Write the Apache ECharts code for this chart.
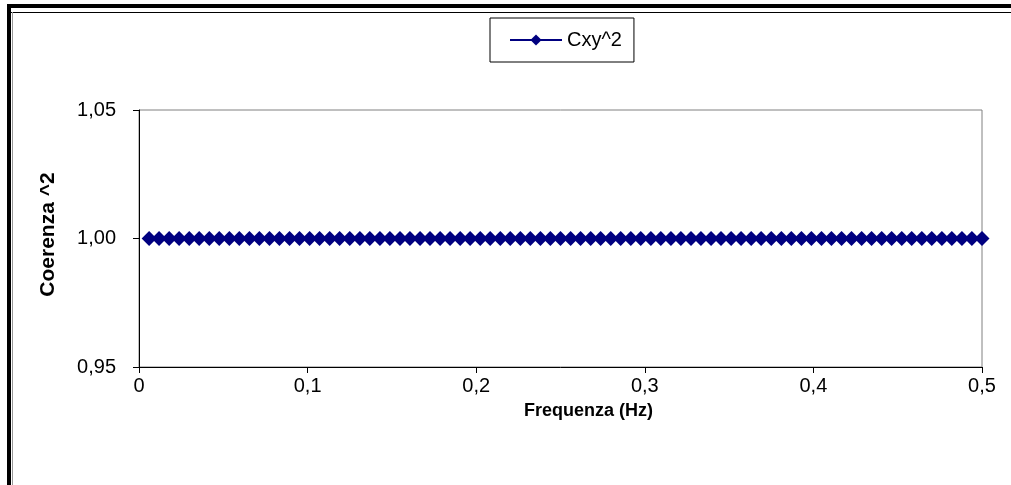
<!DOCTYPE html>
<html>
<head>
<meta charset="utf-8">
<script src="https://cdn.jsdelivr.net/npm/echarts@6/dist/echarts.min.js"></script>
<style>
  html, body { margin: 0; padding: 0; background: #fff; }
  #main { width: 1011px; height: 485px; }
</style>
</head>
<body>
<div id="main"></div>
<script>
// frequency bins (Hz) and squared coherence
var freqs = [
  0.0060, 0.0119, 0.0179, 0.0238, 0.0298, 0.0357, 0.0417, 0.0476, 0.0536, 0.0595,
  0.0655, 0.0714, 0.0774, 0.0833, 0.0893, 0.0952, 0.1012, 0.1071, 0.1131, 0.1190,
  0.1250, 0.1310, 0.1369, 0.1429, 0.1488, 0.1548, 0.1607, 0.1667, 0.1726, 0.1786,
  0.1845, 0.1905, 0.1964, 0.2024, 0.2083, 0.2143, 0.2202, 0.2262, 0.2321, 0.2381,
  0.2440, 0.2500, 0.2560, 0.2619, 0.2679, 0.2738, 0.2798, 0.2857, 0.2917, 0.2976,
  0.3036, 0.3095, 0.3155, 0.3214, 0.3274, 0.3333, 0.3393, 0.3452, 0.3512, 0.3571,
  0.3631, 0.3690, 0.3750, 0.3810, 0.3869, 0.3929, 0.3988, 0.4048, 0.4107, 0.4167,
  0.4226, 0.4286, 0.4345, 0.4405, 0.4464, 0.4524, 0.4583, 0.4643, 0.4702, 0.4762,
  0.4821, 0.4881, 0.4940, 0.5000
];
var cxy2 = [
  1, 1, 1, 1, 1, 1, 1, 1, 1, 1,
  1, 1, 1, 1, 1, 1, 1, 1, 1, 1,
  1, 1, 1, 1, 1, 1, 1, 1, 1, 1,
  1, 1, 1, 1, 1, 1, 1, 1, 1, 1,
  1, 1, 1, 1, 1, 1, 1, 1, 1, 1,
  1, 1, 1, 1, 1, 1, 1, 1, 1, 1,
  1, 1, 1, 1, 1, 1, 1, 1, 1, 1,
  1, 1, 1, 1, 1, 1, 1, 1, 1, 1,
  1, 1, 1, 1
];
var xTicks = { min: 0, max: 0.5, step: 0.1 };
var yTicks = { min: 0.95, max: 1.05, step: 0.05 };

var font = 'Liberation Sans, Arial, sans-serif';
var points = freqs.map(function (f, i) { return [f, cxy2[i]]; });

var chart = echarts.init(document.getElementById('main'));
chart.setOption({
  animation: false,
  backgroundColor: '#fff',
  textStyle: { fontFamily: font },
  graphic: [
    // outer frame (only top and left edges are in view)
    { type: 'rect', shape: { x: 7, y: 4, width: 1004, height: 4 }, style: { fill: '#000' } },
    { type: 'rect', shape: { x: 7, y: 4, width: 4, height: 481 }, style: { fill: '#000' } },
    { type: 'line', shape: { x1: 11, y1: 12.5, x2: 1011, y2: 12.5 }, style: { stroke: '#000', lineWidth: 1 } },
    { type: 'line', shape: { x1: 12.5, y1: 12, x2: 12.5, y2: 485 }, style: { stroke: '#999', lineWidth: 1 } }
  ],
  legend: {
    data: ['Cxy^2'],
    left: 490,
    top: 18,
    orient: 'horizontal',
    backgroundColor: '#fff',
    borderColor: '#000',
    borderWidth: 1,
    borderRadius: 0,
    padding: [12, 12, 12, 19],
    itemWidth: 52,
    itemHeight: 14,
    itemGap: 5,
    textStyle: { fontFamily: font, fontSize: 20, color: '#000' }
  },
  grid: {
    left: 139,
    top: 110,
    right: 29,
    bottom: 118,
    show: true,
    borderColor: '#808080',
    borderWidth: 1,
    backgroundColor: '#fff'
  },
  xAxis: {
    type: 'value',
    min: xTicks.min,
    max: xTicks.max,
    interval: xTicks.step,
    name: 'Frequenza (Hz)',
    nameLocation: 'middle',
    nameGap: 35,
    nameTextStyle: {
      fontFamily: font, fontSize: 18, fontWeight: 'bold', color: '#000',
      padding: [0, 0, 0, 56]
    },
    axisLine: { lineStyle: { color: '#000', width: 1 } },
    axisTick: { show: true, length: 6, lineStyle: { color: '#000' } },
    axisLabel: {
      margin: 9,
      fontFamily: font,
      fontSize: 20,
      color: '#000',
      formatter: function (v) { return v === 0 ? '0' : v.toFixed(1).replace('.', ','); }
    },
    splitLine: { show: false }
  },
  yAxis: {
    type: 'value',
    min: yTicks.min,
    max: yTicks.max,
    interval: yTicks.step,
    name: 'Coerenza ^2',
    nameLocation: 'middle',
    nameRotate: 90,
    nameGap: 80,
    nameTextStyle: {
      fontFamily: font, fontSize: 21, fontWeight: 'bold', color: '#000',
      padding: [0, 0, 0, 8]
    },
    axisLine: { show: true, lineStyle: { color: '#000', width: 1 } },
    axisTick: { show: true, length: 6, lineStyle: { color: '#000' } },
    axisLabel: {
      margin: 23,
      fontFamily: font,
      fontSize: 20,
      color: '#000',
      formatter: function (v) { return v.toFixed(2).replace('.', ','); }
    },
    splitLine: { show: false }
  },
  series: [{
    name: 'Cxy^2',
    type: 'line',
    data: points,
    symbol: 'diamond',
    symbolSize: 15,
    showSymbol: true,
    lineStyle: { color: '#000080', width: 2 },
    itemStyle: { color: '#000080', borderWidth: 0 }
  }]
});
</script>
</body>
</html>
